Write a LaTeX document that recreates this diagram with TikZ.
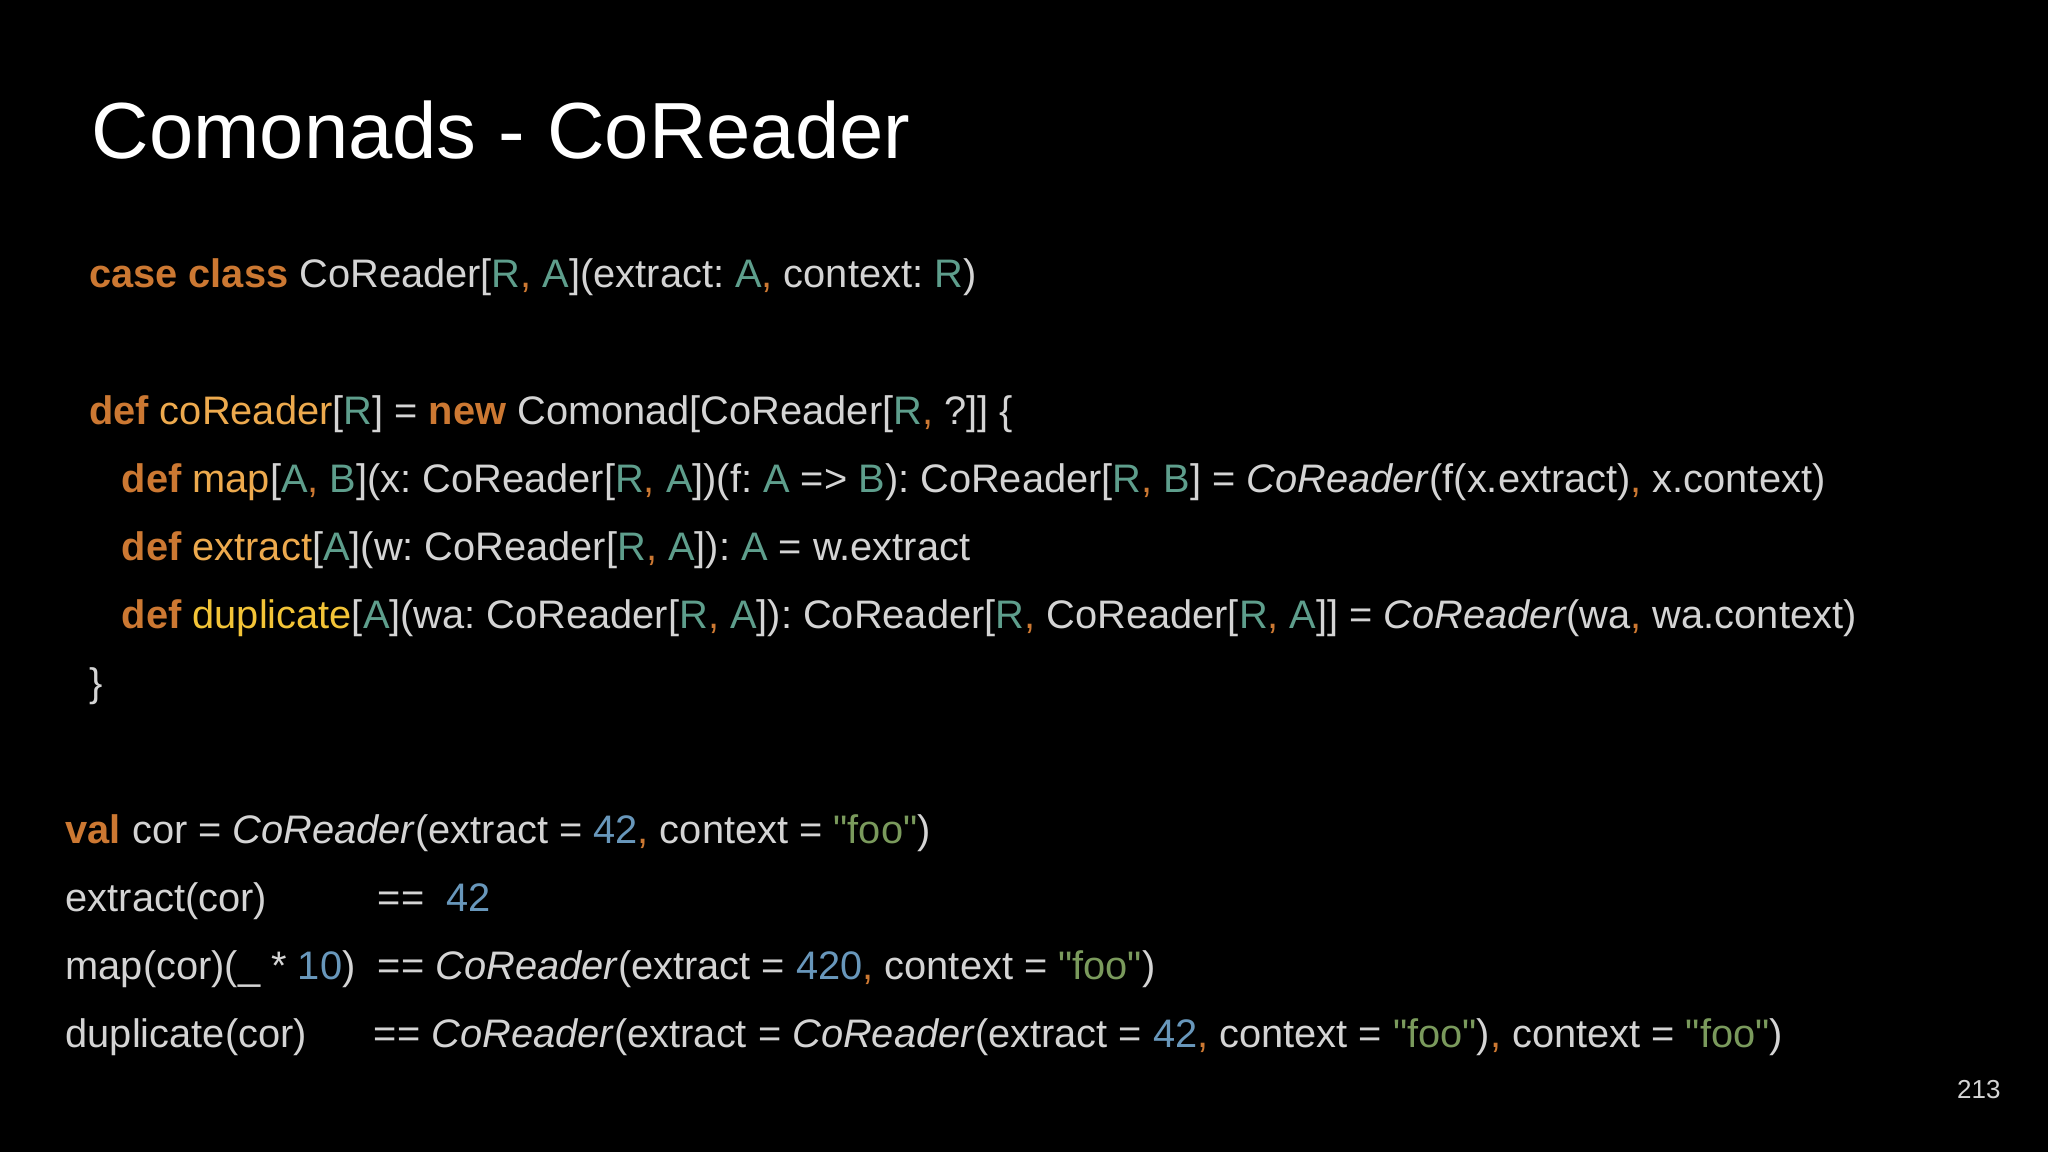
\documentclass[tikz,border=0pt]{standalone}
\usepackage{fontspec}
\setmainfont{Liberation Sans}[Ligatures=TeXOff]
\frenchspacing
\definecolor{bg}{HTML}{000000}
\definecolor{txt}{HTML}{D4D4D4}
\definecolor{kwc}{HTML}{CC7832}
\definecolor{tpc}{HTML}{5E9E8C}
\definecolor{fnc}{HTML}{EDAA4E}
\definecolor{nmc}{HTML}{6897BB}
\definecolor{stc}{HTML}{7A9A5C}
\newcommand{\kw}[1]{\textcolor{kwc}{\bfseries #1}}
\newcommand{\cm}{\textcolor{kwc}{,}}
\newcommand{\tp}[1]{\textcolor{tpc}{#1}}
\newcommand{\fn}[1]{\textcolor{fnc}{#1}}
\newcommand{\nm}[1]{\textcolor{nmc}{#1}}
\newcommand{\st}[1]{\textcolor{stc}{"#1"}}
\newcommand{\CR}{\textit{CoReader}}
\begin{document}
\begin{tikzpicture}[x=0.653pt,y=-0.653pt,
  code/.style={anchor=base west,inner sep=0pt,text=txt,font=\fontsize{19.9}{24}\selectfont}]
\useasboundingbox[fill=bg] (0,0) rectangle (1568,882);
\node[anchor=base west,inner sep=0pt,text=white,font=\fontsize{39.8}{46}\selectfont] (title) at (70,121) {Comonads - CoReader};
\node[code] (l1) at (68,220) {\kw{case class} CoReader[\tp{R}\cm{} \tp{A}](extract: \tp{A}\cm{} context: \tp{R})};
\node[code] (l2) at (68,325) {\kw{def} \fn{coReader}[\tp{R}] = \kw{new} Comonad[CoReader[\tp{R}\cm{} ?]] \{};
\node[code] (l3) at (93,377) {\kw{def} \fn{map}[\tp{A}\cm{} \tp{B}](x: CoReader[\tp{R}\cm{} \tp{A}])(f: \tp{A} => \tp{B}): CoReader[\tp{R}\cm{} \tp{B}] = \CR(f(x.extract)\cm{} x.context)};
\node[code] (l4) at (93,429) {\kw{def} \fn{extract}[\tp{A}](w: CoReader[\tp{R}\cm{} \tp{A}]): \tp{A} = w.extract};
\node[code] (l5) at (93,481) {\kw{def} \textcolor{fnc!70!yellow}{duplicate}[\tp{A}](wa: CoReader[\tp{R}\cm{} \tp{A}]): CoReader[\tp{R}\cm{} CoReader[\tp{R}\cm{} \tp{A}]] = \CR(wa\cm{} wa.context)};
\node[code] (l6) at (68,533) {\}};
\node[code] (v1) at (50,646) {\kw{val} cor = \CR(extract = \nm{42}\cm{} context = \st{foo})};
\node[code] (v2) at (50,698) {extract(cor)};
\node[code] (v2r) at (289,698) {==\ \ \nm{42}};
\node[code] (v3) at (50,750) {map(cor)(\_ * \nm{10})};
\node[code] (v3r) at (289,750) {== \CR(extract = \nm{420}\cm{} context = \st{foo})};
\node[code] (v4) at (50,802) {duplicate(cor)};
\node[code] (v4r) at (286,802) {== \CR(extract = \CR(extract = \nm{42}\cm{} context = \st{foo})\cm{} context = \st{foo})};
\node[anchor=base east,inner sep=0pt,text=txt,font=\fontsize{13}{15}\selectfont] (pg) at (1532,841) {213};
\end{tikzpicture}
\end{document}
